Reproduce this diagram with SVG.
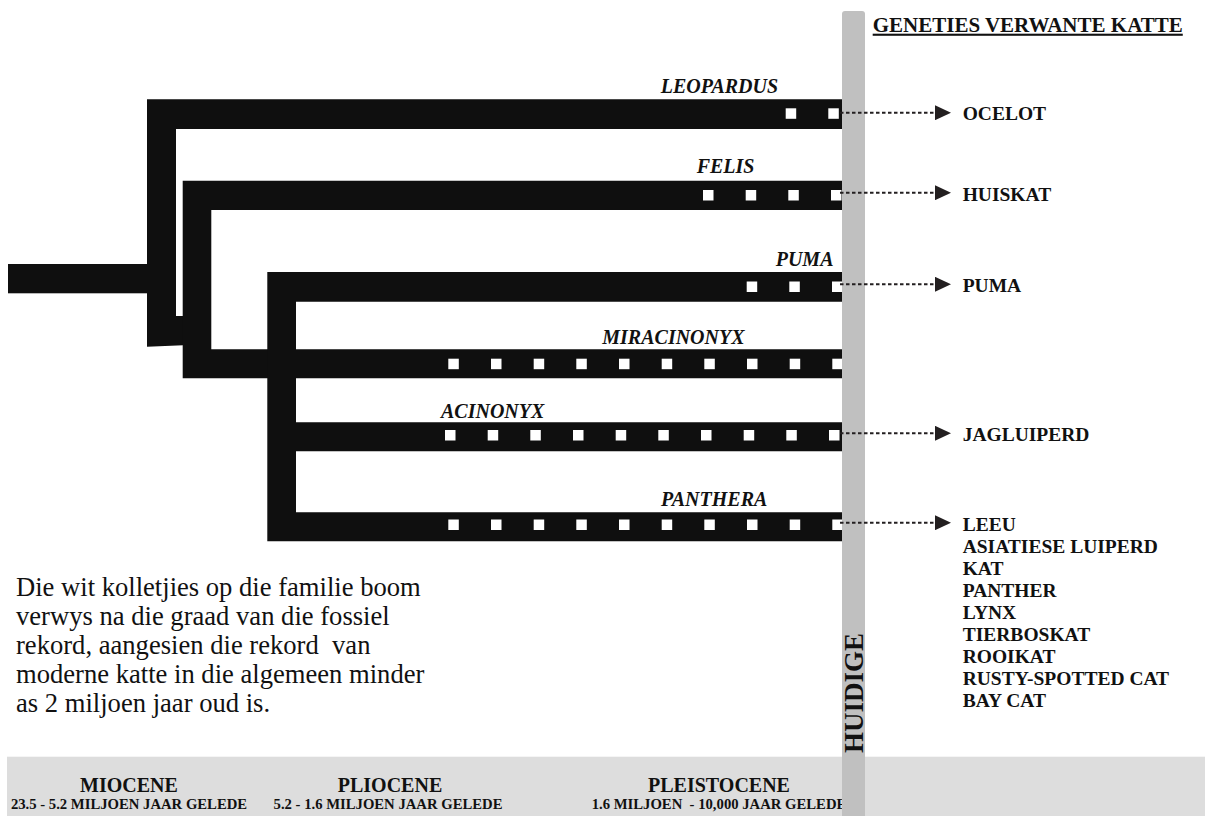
<svg xmlns="http://www.w3.org/2000/svg" width="1205" height="816" viewBox="0 0 1205 816">
<style>
.br{fill:#0f0f0f;}
.dot{fill:#ffffff;}
.genus{font-family:"Liberation Serif",serif;font-weight:bold;font-style:italic;font-size:20px;fill:#111;}
.sp{font-family:"Liberation Serif",serif;font-weight:bold;font-size:19.5px;fill:#111;}
.note{font-family:"Liberation Serif",serif;font-size:26.6px;fill:#111;}
.era{font-family:"Liberation Serif",serif;font-weight:bold;font-size:20px;fill:#111;text-anchor:middle;}
.sub{font-family:"Liberation Serif",serif;font-weight:bold;font-size:14.7px;fill:#111;text-anchor:middle;}
.con{stroke:#231f20;stroke-width:2;stroke-dasharray:3.5 2.5;fill:none;}
</style>
<defs>
<marker id="ah" markerUnits="userSpaceOnUse" markerWidth="16" markerHeight="15" viewBox="0 0 16 15" refX="0" refY="7.5" orient="auto">
<path d="M0,0 L16,7.5 L0,15 Z" fill="#231f20"/>
</marker>
</defs>
<rect x="0" y="0" width="1205" height="816" fill="#ffffff"/>
<rect id="band" x="7" y="756.7" width="1198" height="59.3" fill="#dddddd"/>
<g id="eras">
<text class="era" x="129" y="791.7">MIOCENE</text>
<text class="sub" x="129" y="809.3">23.5 - 5.2 MILJOEN JAAR GELEDE</text>
<text class="era" x="390" y="791.7">PLIOCENE</text>
<text class="sub" x="388" y="809.3">5.2 - 1.6 MILJOEN JAAR GELEDE</text>
<text class="era" x="719" y="791.7">PLEISTOCENE</text>
<text class="sub" x="719" y="809.3" style="white-space:pre">1.6 MILJOEN  - 10,000 JAAR GELEDE</text>
</g>
<g id="root"><rect class="br" x="8" y="264" width="139.5" height="29.3"/></g>
<g id="leopardus">
<path class="br" d="M147,99.3 H842 V129 H176 V316 H183 V345.3 L147,346.7 Z"/>
<rect class="dot" x="785.7" y="108.3" width="10.5" height="10.5"/>
<rect class="dot" x="828.3" y="108.3" width="10.5" height="10.5"/>
<text class="genus" x="660.7" y="93.3">LEOPARDUS</text>
</g>
<g id="felis">
<path class="br" d="M182.7,180.7 H842 V210 H211.3 V349.3 H842 V378.3 H182.7 Z"/>
<rect class="dot" x="703" y="190" width="10.5" height="10.5"/>
<rect class="dot" x="745.7" y="190" width="10.5" height="10.5"/>
<rect class="dot" x="788.3" y="190" width="10.5" height="10.5"/>
<rect class="dot" x="831" y="190" width="10.5" height="10.5"/>
<text class="genus" x="696.7" y="172.7">FELIS</text>
</g>
<g id="miracinonyx">
<rect class="dot" x="448.3" y="358.7" width="10.5" height="10.5"/>
<rect class="dot" x="491" y="358.7" width="10.5" height="10.5"/>
<rect class="dot" x="533.7" y="358.7" width="10.5" height="10.5"/>
<rect class="dot" x="576.3" y="358.7" width="10.5" height="10.5"/>
<rect class="dot" x="619" y="358.7" width="10.5" height="10.5"/>
<rect class="dot" x="661.7" y="358.7" width="10.5" height="10.5"/>
<rect class="dot" x="704.3" y="358.7" width="10.5" height="10.5"/>
<rect class="dot" x="747" y="358.7" width="10.5" height="10.5"/>
<rect class="dot" x="789.7" y="358.7" width="10.5" height="10.5"/>
<rect class="dot" x="832.3" y="358.7" width="10.5" height="10.5"/>
<text class="genus" x="602.3" y="344.3">MIRACINONYX</text>
</g>
<g id="puma">
<path class="br" d="M267.3,272 H842 V301.7 H296 V422.3 H842 V451.3 H296 V512.3 H842 V541.3 H267.3 Z"/>
<rect class="dot" x="746.7" y="281.5" width="10.5" height="10.5"/>
<rect class="dot" x="789.3" y="281.5" width="10.5" height="10.5"/>
<rect class="dot" x="832" y="281.5" width="10.5" height="10.5"/>
<text class="genus" x="775.7" y="266">PUMA</text>
</g>
<g id="acinonyx">
<rect class="dot" x="445" y="430" width="10.5" height="10.5"/>
<rect class="dot" x="487.7" y="430" width="10.5" height="10.5"/>
<rect class="dot" x="530.3" y="430" width="10.5" height="10.5"/>
<rect class="dot" x="573" y="430" width="10.5" height="10.5"/>
<rect class="dot" x="615.7" y="430" width="10.5" height="10.5"/>
<rect class="dot" x="658.3" y="430" width="10.5" height="10.5"/>
<rect class="dot" x="701" y="430" width="10.5" height="10.5"/>
<rect class="dot" x="743.7" y="430" width="10.5" height="10.5"/>
<rect class="dot" x="786.3" y="430" width="10.5" height="10.5"/>
<rect class="dot" x="829" y="430" width="10.5" height="10.5"/>
<text class="genus" x="441" y="418.3">ACINONYX</text>
</g>
<g id="panthera">
<rect class="dot" x="448.3" y="519.5" width="10.5" height="10.5"/>
<rect class="dot" x="491" y="519.5" width="10.5" height="10.5"/>
<rect class="dot" x="533.7" y="519.5" width="10.5" height="10.5"/>
<rect class="dot" x="576.3" y="519.5" width="10.5" height="10.5"/>
<rect class="dot" x="619" y="519.5" width="10.5" height="10.5"/>
<rect class="dot" x="661.7" y="519.5" width="10.5" height="10.5"/>
<rect class="dot" x="704.3" y="519.5" width="10.5" height="10.5"/>
<rect class="dot" x="747" y="519.5" width="10.5" height="10.5"/>
<rect class="dot" x="789.7" y="519.5" width="10.5" height="10.5"/>
<rect class="dot" x="832.3" y="519.5" width="10.5" height="10.5"/>
<text class="genus" x="661" y="506">PANTHERA</text>
</g>
<g id="present">
<rect x="842" y="11" width="23" height="810" rx="3" fill="#c0c0c0"/>
<text x="863" y="753" transform="rotate(-90 863 753)" font-family="Liberation Serif, serif" font-weight="bold" font-size="27" fill="#111">HUIDIGE</text>
</g>
<g id="connectors">
<line class="con" x1="840" y1="112.7" x2="935" y2="112.7" marker-end="url(#ah)"/>
<line class="con" x1="840" y1="192.7" x2="935" y2="192.7" marker-end="url(#ah)"/>
<line class="con" x1="840" y1="284.3" x2="935" y2="284.3" marker-end="url(#ah)"/>
<line class="con" x1="840" y1="433.3" x2="935" y2="433.3" marker-end="url(#ah)"/>
<line class="con" x1="840" y1="522.7" x2="935" y2="522.7" marker-end="url(#ah)"/>
</g>
<g id="header"><text x="872.7" y="31.7" font-family="Liberation Serif, serif" font-weight="bold" font-size="21" fill="#111" text-decoration="underline">GENETIES VERWANTE KATTE</text></g>
<g id="ocelot"><text class="sp" x="962.7" y="120">OCELOT</text></g>
<g id="huiskat"><text class="sp" x="962.7" y="200.5">HUISKAT</text></g>
<g id="puma-species"><text class="sp" x="962.7" y="291.7">PUMA</text></g>
<g id="jagluiperd"><text class="sp" x="962.7" y="440.7">JAGLUIPERD</text></g>
<g id="panthera-species">
<text class="sp" x="962.7" y="530.7">LEEU</text>
<text class="sp" x="962.7" y="552.7">ASIATIESE LUIPERD</text>
<text class="sp" x="962.7" y="574.7">KAT</text>
<text class="sp" x="962.7" y="596.7">PANTHER</text>
<text class="sp" x="962.7" y="618.7">LYNX</text>
<text class="sp" x="962.7" y="640.7">TIERBOSKAT</text>
<text class="sp" x="962.7" y="662.7">ROOIKAT</text>
<text class="sp" x="962.7" y="684.7">RUSTY-SPOTTED CAT</text>
<text class="sp" x="962.7" y="706.7">BAY CAT</text>
</g>
<g id="note">
<text class="note" x="16" y="596">Die wit kolletjies op die familie boom</text>
<text class="note" x="16" y="625">verwys na die graad van die fossiel</text>
<text class="note" x="16" y="654" style="white-space:pre">rekord, aangesien die rekord  van</text>
<text class="note" x="16" y="683">moderne katte in die algemeen minder</text>
<text class="note" x="16" y="712">as 2 miljoen jaar oud is.</text>
</g>
</svg>
